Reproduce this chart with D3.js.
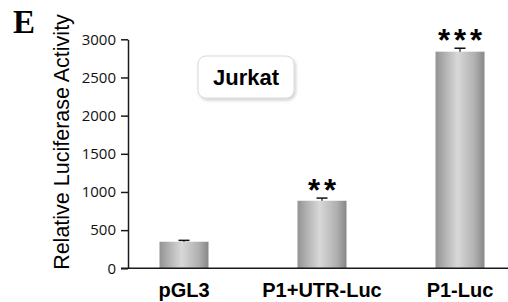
<!DOCTYPE html>
<html>
<head>
<meta charset="utf-8">
<script src="https://cdn.jsdelivr.net/npm/d3@7"></script>
<style>
  body { margin: 0; background: #fff; }
  svg { display: block; }
</style>
</head>
<body>
<svg id="s" width="508" height="302"></svg>
<script>
// Data
const groups = ["pGL3", "P1+UTR-Luc", "P1-Luc"],
  means = [348, 885, 2838],
  errs = [18, 35, 45],
  stars = ["", "**", "***"],
  yTicks = [0, 500, 1000, 1500, 2000, 2500, 3000];

const svg = d3.select("#s"),
  defs = svg.append("defs"),
  x = d3.scaleBand().domain(groups).range([159.5, 484.5]).paddingInner(0.645).paddingOuter(0),
  y = d3.scaleLinear().domain([0, 3000]).range([268.3, 39.3]);

// bar shading, dark edges light middle
const grad = defs.append("linearGradient").attr("id", "bar").attr("x1", 0).attr("x2", 1).attr("y1", 0).attr("y2", 0);
[[0, "#939393"], [0.15, "#ababab"], [0.45, "#d8d8d8"], [0.8, "#b0b0b0"], [1, "#878787"]].forEach(([o, c]) => {
  grad.append("stop").attr("offset", o).attr("stop-color", c);
});

const shadow = defs.append("filter").attr("id", "sh").attr("x", -0.2).attr("y", -0.3).attr("width", 1.4).attr("height", 1.6);
shadow.append("feDropShadow").attr("dx", 1.5).attr("dy", 2).attr("stdDeviation", 1.5).attr("flood-color", "#000").attr("flood-opacity", 0.18);

// panel letter
svg.append("text")
  .attr("x", 13).attr("y", 33)
  .style("font", "bold 33px 'Liberation Serif', serif")
  .text("E");

// y axis
const yAxis = svg.append("g")
  .attr("transform", `translate(128,0)`)
  .call(d3.axisLeft(y).tickValues(yTicks).tickFormat(d3.format("d")).tickSize(7).tickPadding(5).tickSizeOuter(0));
yAxis.select(".domain").attr("stroke", "#1a1a1a").attr("stroke-width", 1.5);
yAxis.selectAll(".tick line").attr("stroke", "#1a1a1a").attr("stroke-width", 1.5);
yAxis.selectAll(".tick text")
  .style("font-family", "'Open Sans', sans-serif")
  .style("font-size", "15px")
  .attr("fill", "#111");

svg.append("text")
  .attr("transform", `translate(69,142) rotate(-90)`)
  .attr("text-anchor", "middle")
  .style("font", "21.5px 'Liberation Sans', Arial, sans-serif")
  .text("Relative Luciferase Activity");

// bars
svg.selectAll("rect.bar").data(groups).join("rect")
  .attr("class", "bar")
  .attr("x", d => x(d))
  .attr("width", x.bandwidth())
  .attr("y", (d, i) => y(means[i]))
  .attr("height", (d, i) => y(0) - y(means[i]))
  .attr("fill", "url(#bar)");

// error bars
const eb = svg.selectAll("g.err").data(groups).join("g").attr("class", "err")
  .attr("transform", d => `translate(${x(d) + x.bandwidth() / 2},0)`);
eb.append("line")
  .attr("y1", (d, i) => y(means[i])).attr("y2", (d, i) => y(means[i] + errs[i]))
  .attr("stroke", "#111").attr("stroke-width", 1.2);
eb.append("line")
  .attr("x1", -5.5).attr("x2", 5.5)
  .attr("y1", (d, i) => y(means[i] + errs[i])).attr("y2", (d, i) => y(means[i] + errs[i]))
  .attr("stroke", "#111").attr("stroke-width", 1.5);

// significance stars
svg.selectAll("text.star").data(groups).join("text")
  .attr("class", "star")
  .attr("x", d => x(d) + x.bandwidth() / 2 + 2)
  .attr("y", (d, i) => y(means[i] + errs[i]) + 3)
  .attr("text-anchor", "middle")
  .style("font", "bold 31px 'Liberation Sans', Arial, sans-serif")
  .attr("letter-spacing", 4)
  .text((d, i) => stars[i]);

// baseline
svg.append("line")
  .attr("x1", 121).attr("x2", 508)
  .attr("y1", y(0)).attr("y2", y(0))
  .attr("stroke", "#1a1a1a").attr("stroke-width", 1.5);

// category labels
svg.selectAll("text.cat").data(groups).join("text")
  .attr("class", "cat")
  .attr("x", d => x(d) + x.bandwidth() / 2)
  .attr("y", 297)
  .attr("text-anchor", "middle")
  .style("font", "bold 20px 'Liberation Sans', Arial, sans-serif")
  .text(d => d);

// cell line box
const box = svg.append("g").attr("transform", "translate(198,56)");
box.append("rect")
  .attr("width", 96).attr("height", 42).attr("rx", 8)
  .attr("fill", "#fff").attr("stroke", "#d8d8d8").attr("stroke-width", 1)
  .attr("filter", "url(#sh)");
box.append("text")
  .attr("x", 48).attr("y", 29)
  .attr("text-anchor", "middle")
  .style("font", "bold 22px 'Liberation Sans', Arial, sans-serif")
  .text("Jurkat");
</script>
</body>
</html>
